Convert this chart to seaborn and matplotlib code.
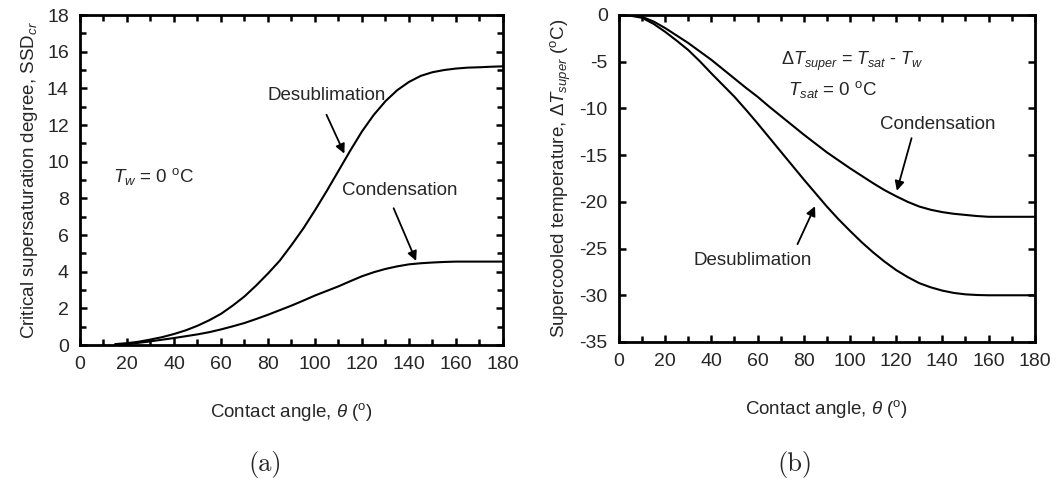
import numpy as np
import pandas as pd
import matplotlib
matplotlib.use("Agg")
import matplotlib.pyplot as plt
import seaborn as sns
from matplotlib.ticker import MultipleLocator, NullLocator

# ---- data ----
theta_a = [15, 20, 25, 30, 35, 40, 45, 50, 55, 60, 65, 70, 75, 80, 85, 90, 95, 100, 105, 110,
           115, 120, 125, 130, 135, 140, 145, 150, 155, 160, 165, 170, 175, 180]
ssd_desub = [0.05, 0.1, 0.18, 0.3, 0.43, 0.6, 0.8, 1.05, 1.35, 1.7, 2.15, 2.65, 3.25, 3.9, 4.6, 5.45,
             6.35, 7.35, 8.4, 9.5, 10.6, 11.65, 12.55, 13.3, 13.9, 14.35, 14.68, 14.88, 15.0, 15.08,
             15.13, 15.15, 15.18, 15.2]
ssd_cond = [0.03, 0.05, 0.12, 0.2, 0.29, 0.38, 0.48, 0.58, 0.7, 0.85, 1.02, 1.2, 1.42, 1.65, 1.9, 2.15,
            2.42, 2.7, 2.95, 3.2, 3.48, 3.75, 3.97, 4.15, 4.29, 4.4, 4.46, 4.5, 4.53, 4.55,
            4.55, 4.55, 4.55, 4.55]

theta_b = [0, 5, 10, 15, 20, 25, 30, 35, 40, 45, 50, 55, 60, 65, 70, 75, 80, 85, 90, 95, 100,
           105, 110, 115, 120, 125, 130, 135, 140, 145, 150, 155, 160, 165, 170, 175, 180]
dt_cond = [0, -0.05, -0.2, -0.7, -1.4, -2.2, -3.0, -3.9, -4.8, -5.8, -6.8, -7.8, -8.75, -9.8, -10.8,
           -11.8, -12.8, -13.75, -14.7, -15.55, -16.4, -17.2, -18.0, -18.75, -19.4, -20.0, -20.5,
           -20.85, -21.1, -21.28, -21.4, -21.52, -21.6, -21.6, -21.6, -21.6, -21.6]
dt_desub = [0, -0.08, -0.3, -0.95, -1.8, -2.75, -3.75, -4.95, -6.25, -7.5, -8.75, -10.15, -11.6,
            -13.1, -14.6, -16.1, -17.6, -19.05, -20.5, -21.85, -23.1, -24.3, -25.4, -26.4, -27.3,
            -28.05, -28.7, -29.15, -29.5, -29.75, -29.9, -29.97, -30.0, -30.0, -30.0, -30.0, -30.0]

sns.set_theme(style="ticks")
plt.rcParams["font.family"] = ["Liberation Sans", "DejaVu Sans"]
plt.rcParams["mathtext.fontset"] = "custom"
plt.rcParams["mathtext.rm"] = "Liberation Sans"
plt.rcParams["mathtext.it"] = "Liberation Sans:italic"
plt.rcParams["axes.unicode_minus"] = False

fig = plt.figure(figsize=(10.58, 4.94), dpi=100)
ax1 = fig.add_axes([0.0756, 0.3016, 0.3998, 0.668])
ax2 = fig.add_axes([0.585, 0.3077, 0.393, 0.662])

dfa = pd.DataFrame({"theta": theta_a * 2,
                    "val": ssd_desub + ssd_cond,
                    "kind": ["Desublimation"] * len(theta_a) + ["Condensation"] * len(theta_a)})
dfb = pd.DataFrame({"theta": theta_b * 2,
                    "val": dt_cond + dt_desub,
                    "kind": ["Condensation"] * len(theta_b) + ["Desublimation"] * len(theta_b)})

pal = {"Desublimation": "black", "Condensation": "black"}
sns.lineplot(data=dfa, x="theta", y="val", hue="kind", palette=pal, ax=ax1, legend=False, lw=1.5)
sns.lineplot(data=dfb, x="theta", y="val", hue="kind", palette=pal, ax=ax2, legend=False, lw=1.5)

fs = 14
for ax in (ax1, ax2):
    ax.set_xlim(0, 180)
    ax.xaxis.set_major_locator(MultipleLocator(20))
    ax.xaxis.set_minor_locator(MultipleLocator(10))
    ax.tick_params(which="both", direction="in", top=True, right=True, width=1.8, color="black",
                   labelsize=fs, pad=8)
    ax.tick_params(which="major", length=5)
    ax.tick_params(which="minor", length=4)
    for s in ax.spines.values():
        s.set_linewidth(2)
        s.set_color("black")
    ax.set_xlabel(r"Contact angle, $\it{\theta}$ ($^{\rm o}$)", fontsize=13.5, labelpad=20)

ax1.set_ylim(0, 18)
ax1.yaxis.set_major_locator(MultipleLocator(2))
ax1.yaxis.set_minor_locator(MultipleLocator(1))
ax1.set_ylabel(r"Critical supersaturation degree, SSD$_{\it{cr}}$", fontsize=13.5, labelpad=5)

ax2.set_ylim(-35, 0)
ax2.yaxis.set_major_locator(MultipleLocator(5))
ax2.yaxis.set_minor_locator(NullLocator())
ax2.set_ylabel(r"Supercooled temperature, $\Delta\it{T}_{super}$ ($^{\rm o}$C)", fontsize=13.5, labelpad=5)

# annotations panel (a)
arr = dict(arrowstyle="-|>", color="black", lw=1.3, mutation_scale=14)
tfs = 13.5
ax1.text(105, 13.6, "Desublimation", ha="center", va="center", fontsize=tfs)
ax1.annotate("", xy=(113, 10.3), xytext=(104.4, 12.7), arrowprops=arr)
ax1.text(136, 8.45, "Condensation", ha="center", va="center", fontsize=tfs)
ax1.annotate("", xy=(143.5, 4.45), xytext=(133, 7.6), arrowprops=arr)
ax1.text(14, 9.2, r"$\it{T}_{\it{w}}$ = 0 $^{\rm o}$C", ha="left", va="center", fontsize=tfs)

# annotations panel (b)
ax2.text(70.3, -5.0, r"$\Delta\it{T}_{\it{super}}$ = $\it{T}_{\it{sat}}$ - $\it{T}_{\it{w}}$",
         ha="left", va="center", fontsize=13)
ax2.text(73, -8.0, r"$\it{T}_{\it{sat}}$ = 0 $^{\rm o}$C", ha="left", va="center", fontsize=tfs)
ax2.text(138, -11.7, "Condensation", ha="center", va="center", fontsize=tfs)
ax2.annotate("", xy=(120, -19.1), xytext=(127, -12.9), arrowprops=arr)
ax2.text(58, -26.25, "Desublimation", ha="center", va="center", fontsize=tfs)
ax2.annotate("", xy=(85.4, -20.2), xytext=(76.8, -24.8), arrowprops=arr)

# panel labels
fig.text(265 / 1058, 1 - 465 / 494, "(a)", ha="center", va="center", fontsize=19, family=["cmr10", "DejaVu Serif"])
fig.text(795 / 1058, 1 - 465 / 494, "(b)", ha="center", va="center", fontsize=19, family=["cmr10", "DejaVu Serif"])

fig.savefig("out.png", dpi=100, facecolor="white")
